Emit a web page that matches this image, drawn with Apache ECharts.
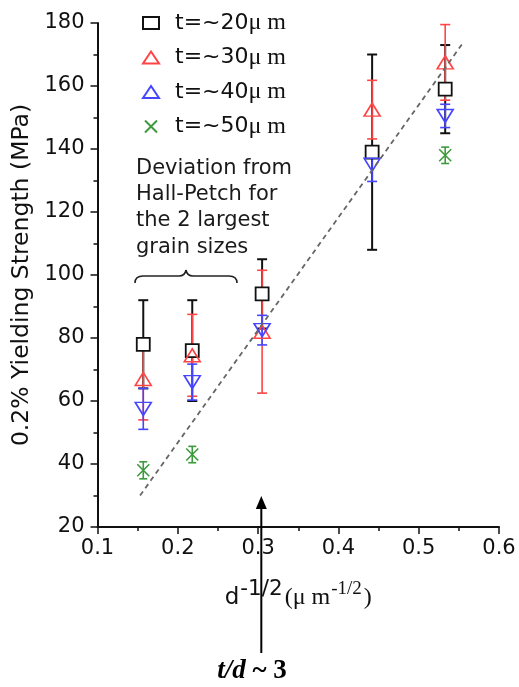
<!DOCTYPE html>
<html>
<head>
<meta charset="utf-8">
<script src="https://cdn.jsdelivr.net/npm/echarts@6/dist/echarts.min.js"></script>
<style>
html,body{margin:0;padding:0;background:#fff;}
#chart{width:519px;height:687px;}
</style>
</head>
<body>
<div id="chart"></div>
<script>
// ---- data ----
const xVals = [0.157, 0.218, 0.305, 0.442, 0.533];          // d^-1/2 (µm^-1/2)
const y20 = [78, 76, 94, 139, 159];     const e20 = [14, 16, 11, 31, 14];
const y30 = [67, 74.5, 82, 152.5, 167.5]; const e30 = [13, 13, 19.5, 9.3, 12];
const y40 = [57.5, 66, 82.5, 135, 150.5]; const e40 = [6.5, 5.7, 4.7, 5.3, 3.7];
const x50 = [0.157, 0.218, 0.533];
const y50 = [38, 43, 138];              const e50 = [2.7, 2.6, 2.6];
const fitX = [0.153, 0.556];
const fitY = [30, 174];
const seriesNames = ['t=~20μm', 't=~30μm', 't=~40μm', 't=~50μm'];
const xMin = 0.1, xMax = 0.6, xStep = 0.1;
const yMin = 20, yMax = 180, yStep = 20;
const arrowX = 0.304;                     // t/d ~ 3 marker
const noteText = ['Deviation from', 'Hall-Petch for', 'the 2 largest', 'grain sizes'];

const colors = ['#111111', '#ff4545', '#4545ff', '#3d9a3d'];

const chart = echarts.init(document.getElementById('chart'), null, {renderer: 'canvas'});

function errSeries(name, xs, ys, es, color, lw, capHalf) {
  return {
    name: name, type: 'custom', silent: true,
    data: xs.map((x, i) => [x, ys[i], es[i]]),
    encode: {x: 0, y: 1},
    renderItem: function (params, api) {
      const x = api.value(0), y = api.value(1), e = api.value(2);
      const t = api.coord([x, y + e]);
      const b = api.coord([x, y - e]);
      const st = {stroke: color, lineWidth: lw};
      return {
        type: 'group',
        children: [
          {type: 'line', shape: {x1: t[0], y1: t[1], x2: b[0], y2: b[1]}, style: st},
          {type: 'line', shape: {x1: t[0] - capHalf, y1: t[1], x2: t[0] + capHalf, y2: t[1]}, style: st},
          {type: 'line', shape: {x1: b[0] - capHalf, y1: b[1], x2: b[0] + capHalf, y2: b[1]}, style: st}
        ]
      };
    }
  };
}

const xPath = 'path://M0,0L10,10M10,0L0,10';

const option = {
  animation: false,
  backgroundColor: '#ffffff',
  grid: {left: 97.5, right: 20, top: 23, bottom: 160},
  legend: {
    orient: 'vertical', left: 137, top: 6,
    itemWidth: 16, itemHeight: 12, itemGap: 10.5,
    data: seriesNames,
    formatter: function (n) { return '{a|' + n.slice(0, -2) + '}{b|μ m}'; },
    textStyle: {
      rich: {
        a: {fontFamily: 'DejaVu Sans', fontSize: 22, color: '#111', lineHeight: 24, padding: [0, 0, 0, 11]},
        b: {fontFamily: 'Liberation Serif', fontSize: 24, color: '#111', lineHeight: 24}
      }
    }
  },
  xAxis: {
    type: 'value', min: xMin, max: xMax, interval: xStep,
    name: '{d|d}{s|-1/2}{p|(μ m}{t|-1/2}{p|)}',
    nameLocation: 'middle', nameGap: 51,
    nameTextStyle: {
      rich: {
        d: {fontFamily: 'DejaVu Sans', fontSize: 23, color: '#111', verticalAlign: 'bottom', padding: [8, 0, 0, 0]},
        s: {fontFamily: 'DejaVu Sans', fontSize: 21.5, color: '#111', verticalAlign: 'top', padding: [0, 2, 0, 1]},
        p: {fontFamily: 'Liberation Serif', fontSize: 24, color: '#111', verticalAlign: 'bottom', padding: [8, 0, 0, 0]},
        t: {fontFamily: 'Liberation Serif', fontSize: 19, color: '#111', verticalAlign: 'top', padding: [2, 2, 0, 1]}
      }
    },
    axisLine: {lineStyle: {color: '#111', width: 2}},
    axisTick: {length: 7, lineStyle: {color: '#111', width: 1.5}},
    minorTick: {show: true, splitNumber: 2, length: 4, lineStyle: {color: '#111', width: 1.5}},
    splitLine: {show: false},
    axisLabel: {fontFamily: 'DejaVu Sans', fontSize: 21, color: '#111', margin: 11,
      formatter: v => v.toFixed(1)}
  },
  yAxis: {
    type: 'value', min: yMin, max: yMax, interval: yStep,
    name: '0.2% Yielding Strength (MPa)',
    nameLocation: 'middle', nameGap: 60,
    nameTextStyle: {fontFamily: 'DejaVu Sans', fontSize: 23.5, color: '#111'},
    axisLine: {show: true, lineStyle: {color: '#111', width: 2}},
    axisTick: {length: 7, lineStyle: {color: '#111', width: 1.5}},
    minorTick: {show: true, splitNumber: 2, length: 4, lineStyle: {color: '#111', width: 1.5}},
    splitLine: {show: false},
    axisLabel: {fontFamily: 'DejaVu Sans', fontSize: 21, color: '#111', margin: 13}
  },
  series: [
    {
      name: 'fit', type: 'line', silent: true, symbol: 'none',
      data: fitX.map((x, i) => [x, fitY[i]]),
      lineStyle: {color: '#666', width: 1.8, type: [5, 4]}
    },
    errSeries('e20', xVals, y20, e20, colors[0], 2, 5),
    {
      name: seriesNames[0], type: 'scatter', symbol: 'rect', symbolSize: 13, symbolKeepAspect: true,
      data: xVals.map((x, i) => [x, y20[i]]),
      itemStyle: {color: '#ffffff', borderColor: colors[0], borderWidth: 1.8, opacity: 1}
    },
    errSeries('e30', xVals, y30, e30, colors[1], 1.6, 5),
    {
      name: seriesNames[1], type: 'scatter', symbol: 'triangle', symbolSize: [16, 13],
      data: xVals.map((x, i) => [x, y30[i]]),
      itemStyle: {color: 'rgba(255,255,255,0)', borderColor: colors[1], borderWidth: 1.6, opacity: 1}
    },
    errSeries('e40', xVals, y40, e40, colors[2], 1.6, 5),
    {
      name: seriesNames[2], type: 'scatter', symbol: 'triangle', symbolRotate: 180, symbolSize: [16, 13],
      data: xVals.map((x, i) => [x, y40[i]]),
      itemStyle: {color: 'rgba(255,255,255,0)', borderColor: colors[2], borderWidth: 1.6, opacity: 1}
    },
    errSeries('e50', x50, y50, e50, colors[3], 1.6, 4),
    {
      name: seriesNames[3], type: 'scatter', symbol: xPath, symbolSize: [12, 12],
      data: x50.map((x, i) => [x, y50[i]]),
      itemStyle: {color: 'rgba(255,255,255,0)', borderColor: colors[3], borderWidth: 1.6, opacity: 1}
    }
  ]
};

chart.setOption(option);

// annotations (arrow, note, brace)
const ax = chart.convertToPixel({xAxisIndex: 0}, arrowX);
const braceStyle = {fill: 'none', stroke: '#222', lineWidth: 1.6};
chart.setOption({
  graphic: [
    {type: 'line', shape: {x1: ax, y1: 653, x2: ax, y2: 506}, style: {stroke: '#000', lineWidth: 2}, z: 100},
    {type: 'polygon', shape: {points: [[ax - 5.5, 509], [ax + 5.5, 509], [ax, 496]]}, style: {fill: '#000'}, z: 100},
    {type: 'text', x: 252, y: 671, z: 100,
      style: {text: '{i|t/d}{b| ~ 3}', align: 'center', verticalAlign: 'middle',
        rich: {
          i: {fontFamily: 'Liberation Serif', fontSize: 27, fontWeight: 'bold', fontStyle: 'italic', fill: '#000'},
          b: {fontFamily: 'Liberation Serif', fontSize: 27, fontWeight: 'bold', fill: '#000'}
        }}},
    {type: 'text', x: 136, y: 155, z: 100,
      style: {text: noteText.join('\n'), font: '21px "DejaVu Sans"', lineHeight: 26.3, fill: '#1a1a1a',
        align: 'left', verticalAlign: 'top'}},
    {type: 'group', z: 100, children: [
      {type: 'bezierCurve', shape: {x1: 135, y1: 283, cpx1: 135, cpy1: 276, x2: 143, y2: 276}, style: braceStyle},
      {type: 'line', shape: {x1: 143, y1: 276, x2: 179, y2: 276}, style: braceStyle},
      {type: 'bezierCurve', shape: {x1: 179, y1: 276, cpx1: 185, cpy1: 276, x2: 186, y2: 270}, style: braceStyle},
      {type: 'bezierCurve', shape: {x1: 186, y1: 270, cpx1: 187, cpy1: 276, x2: 193, y2: 276}, style: braceStyle},
      {type: 'line', shape: {x1: 193, y1: 276, x2: 229, y2: 276}, style: braceStyle},
      {type: 'bezierCurve', shape: {x1: 229, y1: 276, cpx1: 237, cpy1: 276, x2: 237, y2: 283}, style: braceStyle}
    ]}
  ]
});
</script>
</body>
</html>
